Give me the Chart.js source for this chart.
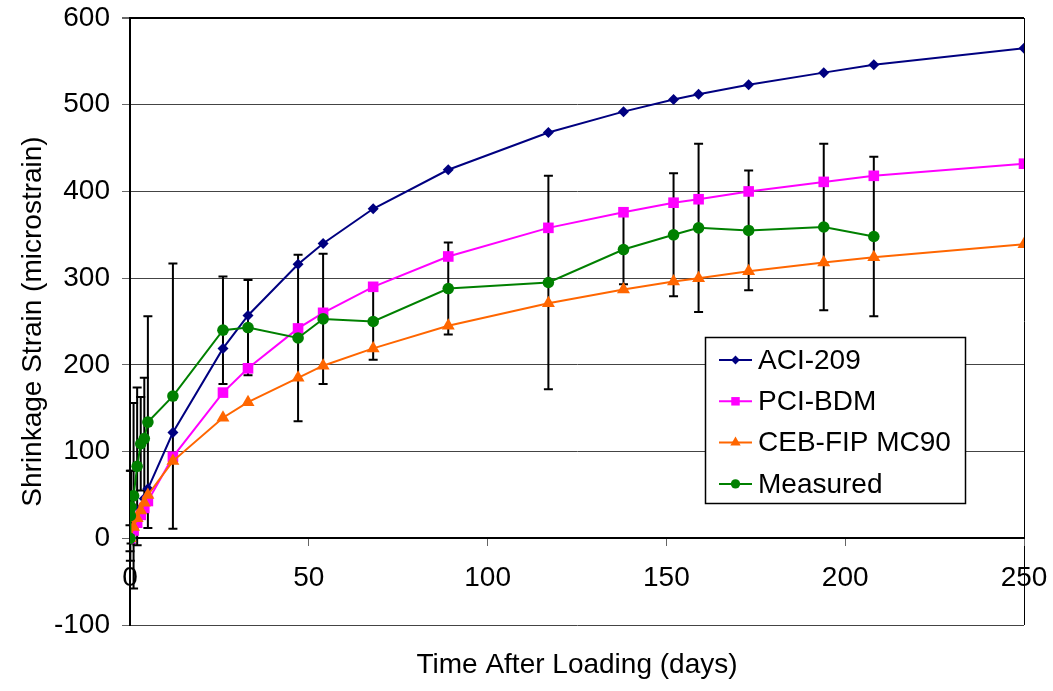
<!DOCTYPE html>
<html>
<head>
<meta charset="utf-8">
<title>Shrinkage Strain</title>
<script src="https://cdn.jsdelivr.net/npm/chart.js@4.4.1/dist/chart.umd.min.js"></script>
<style>
  html, body { margin: 0; padding: 0; background: #fff; }
  #wrap { position: relative; width: 1053px; height: 691px; }
</style>
</head>
<body>
<div id="wrap"><canvas id="shrinkChart"></canvas></div>
<script>
const modelDays = [0, 1, 2, 3, 4, 5, 12, 26, 33, 47, 54, 68, 89, 117, 138, 152, 159, 173, 194, 208, 250];
const aciValues = [0, 12, 24, 35, 46, 57, 122, 219, 257, 316, 340, 380, 425, 468, 492, 506, 512, 523, 537, 546, 565];
const pciValues = [0, 9, 18, 27, 35, 43, 94, 168, 196, 242, 260, 290, 325, 358, 376, 387, 391, 400, 411, 418, 432];
const cebValues = [0, 13, 23, 32, 41, 50, 89, 139, 157, 185, 199, 219, 245, 271, 287, 296, 300, 308, 318, 324, 339];

const measuredDays = [0, 0.1, 0.3, 1, 2, 3, 4, 5, 12, 26, 33, 47, 54, 68, 89, 117, 138, 152, 159, 173, 194, 208];
const measuredValues = [0, 26, 36, 49, 83, 109, 115, 134, 164, 240, 243, 231, 253, 250, 288, 295, 333, 350, 358, 355, 359, 348];
const measuredErrors = [15, 52, 42, 107, 91, 54, 70, 122, 153, 62, 55, 96, 75, 44, 53, 123, 40, 71, 97, 69, 96, 92];

const seriesNames = ['ACI-209', 'PCI-BDM', 'CEB-FIP MC90', 'Measured'];
const xTicks = [0, 50, 100, 150, 200, 250];
const yTicks = [-100, 0, 100, 200, 300, 400, 500, 600];

const FONT = '"Liberation Sans", Arial, sans-serif';

function toPoints(xs, ys) {
  return xs.map((x, i) => ({ x: x, y: ys[i] }));
}

// marker shapes for the hand drawn legend
function drawMarker(ctx, shape, x, y, r, color) {
  ctx.save();
  ctx.fillStyle = color;
  ctx.beginPath();
  if (shape === 'rectRot') {
    ctx.moveTo(x, y - r); ctx.lineTo(x + r, y); ctx.lineTo(x, y + r); ctx.lineTo(x - r, y);
  } else if (shape === 'rect') {
    const s = r * Math.SQRT1_2;
    ctx.rect(x - s, y - s, 2 * s, 2 * s);
  } else if (shape === 'triangle') {
    ctx.moveTo(x, y - r); ctx.lineTo(x + r * 0.866, y + r * 0.5); ctx.lineTo(x - r * 0.866, y + r * 0.5);
  } else {
    ctx.arc(x, y, r, 0, Math.PI * 2);
  }
  ctx.closePath();
  ctx.fill();
  ctx.restore();
}

const errorBars = {
  id: 'errorBars',
  beforeDatasetsDraw(chart) {
    const { ctx, scales } = chart;
    ctx.save();
    ctx.strokeStyle = '#000';
    ctx.lineWidth = 2;
    measuredDays.forEach((d, i) => {
      const x = scales.x.getPixelForValue(d);
      const top = scales.y.getPixelForValue(measuredValues[i] + measuredErrors[i]);
      const bot = scales.y.getPixelForValue(measuredValues[i] - measuredErrors[i]);
      ctx.beginPath();
      ctx.moveTo(x, top); ctx.lineTo(x, bot);
      ctx.moveTo(x - 4.5, top); ctx.lineTo(x + 4.5, top);
      ctx.moveTo(x - 4.5, bot); ctx.lineTo(x + 4.5, bot);
      ctx.stroke();
    });
    ctx.restore();
  }
};

const boxLegend = {
  id: 'boxLegend',
  afterDraw(chart) {
    const ctx = chart.ctx;
    ctx.save();
    ctx.fillStyle = '#fff';
    ctx.fillRect(705.5, 337.5, 260, 166);
    ctx.strokeStyle = '#000';
    ctx.lineWidth = 1.5;
    ctx.strokeRect(705.5, 337.5, 260, 166);
    ctx.font = '28px ' + FONT;
    ctx.textBaseline = 'middle';
    ctx.textAlign = 'left';
    chart.data.datasets.forEach((ds, i) => {
      const y = 360 + i * 41.3;
      ctx.strokeStyle = ds.borderColor;
      ctx.lineWidth = 2;
      ctx.beginPath();
      ctx.moveTo(719, y); ctx.lineTo(752, y);
      ctx.stroke();
      drawMarker(ctx, ds.pointStyle, 735.5, y, ds.pointRadius * 0.8, ds.borderColor);
      ctx.fillStyle = '#000';
      ctx.fillText(ds.label, 758, y + 1);
    });

    // x axis title
    ctx.font = '28px ' + FONT;
    ctx.textAlign = 'center';
    ctx.fillText('Time After Loading (days)', (chart.chartArea.left + chart.chartArea.right) / 2, 665);
    ctx.restore();
  }
};

const lineSet = (label, xs, ys, color, style, radius, order) => ({
  label: label,
  data: toPoints(xs, ys),
  borderColor: color,
  backgroundColor: color,
  borderWidth: 2,
  pointStyle: style,
  pointRadius: radius,
  pointBorderWidth: 0,
  pointHoverRadius: radius,
  order: order
});

new Chart(document.getElementById('shrinkChart').getContext('2d'), {
  type: 'line',
  data: {
    datasets: [
      lineSet(seriesNames[0], modelDays, aciValues, '#000080', 'rectRot', 5.5, 4),
      lineSet(seriesNames[1], modelDays, pciValues, '#FF00FF', 'rect', 7.5, 3),
      lineSet(seriesNames[2], modelDays, cebValues, '#FF6600', 'triangle', 7.5, 2),
      lineSet(seriesNames[3], measuredDays, measuredValues, '#008000', 'circle', 5.8, 1)
    ]
  },
  options: {
    responsive: true,
    maintainAspectRatio: false,
    animation: false,
    layout: { padding: { top: 18, right: 29, bottom: 66, left: 0 } },
    plugins: {
      legend: { display: false },
      tooltip: { enabled: false }
    },
    scales: {
      x: {
        type: 'linear',
        position: { y: 0 },
        min: 0,
        max: 250,
        afterBuildTicks: (scale) => { scale.ticks = xTicks.map(v => ({ value: v })); },
        afterFit: (scale) => { scale.paddingLeft = 0; scale.paddingRight = 0; },
        ticks: {
          color: '#000',
          padding: 16,
          maxRotation: 0,
          font: { family: FONT, size: 28 }
        },
        grid: {
          color: (c) => (c.tick && c.tick.value === 250 ? '#000' : 'rgba(0,0,0,0)'),
          tickColor: '#666',
          tickLength: 7,
          lineWidth: 1
        },
        border: { color: '#000', width: 2 }
      },
      y: {
        min: -100,
        max: 600,
        afterBuildTicks: (scale) => { scale.ticks = yTicks.map(v => ({ value: v })); },
        afterFit: (scale) => { scale.width = 130; scale.paddingTop = 0; scale.paddingBottom = 0; },
        ticks: {
          color: '#000',
          padding: 12,
          font: { family: FONT, size: 28 }
        },
        grid: {
          color: (c) => (c.tick && c.tick.value === 600 ? '#000' : '#444'),
          lineWidth: (c) => (c.tick && c.tick.value === 600 ? 2 : 1),
          tickColor: '#666',
          tickLength: 8
        },
        border: { color: '#000', width: 2 },
        title: {
          display: true,
          text: 'Shrinkage Strain (microstrain)',
          color: '#000',
          padding: { top: 16, bottom: 0 },
          font: { family: FONT, size: 28 }
        }
      }
    }
  },
  plugins: [errorBars, boxLegend]
});
</script>
</body>
</html>
